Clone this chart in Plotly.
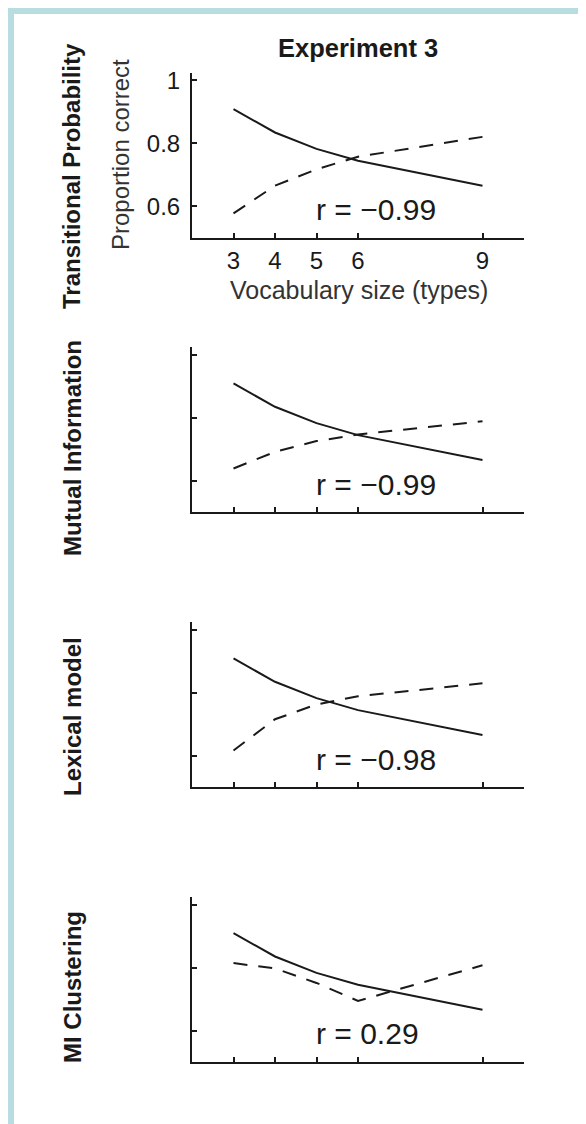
import plotly.graph_objects as go

W, H = 586, 1124

# ---- data ----
vocab_sizes = [3, 4, 5, 6, 9]
human_correct = [0.909, 0.835, 0.783, 0.745, 0.666]          # solid line
tp_model = [0.578, 0.666, 0.718, 0.758, 0.821]               # dashed, Transitional Probability
mi_model = [0.639, 0.692, 0.726, 0.747, 0.789]               # dashed, Mutual Information
lex_model = [0.617, 0.716, 0.763, 0.789, 0.830]              # dashed, Lexical model
mic_model = [0.814, 0.797, 0.751, 0.694, 0.807]              # dashed, MI Clustering
row_labels = ["Transitional Probability", "Mutual Information", "Lexical model", "MI Clustering"]
r_values = ["r = \u22120.99", "r = \u22120.99", "r = \u22120.98", "r = 0.29"]
model_series = [tp_model, mi_model, lex_model, mic_model]
y_ticks = [0.6, 0.8, 1.0]
y_ticklabels = ["0.6", "0.8", "1"]
x_ticks = [3, 4, 5, 6, 9]

FONT = "Liberation Sans, Arial, Helvetica, sans-serif"
INK = "#1a1a1a"

# layout geometry (pixels)
x_left, x_right = 184, 516
bottoms = [230, 504.3, 779.3, 1054]
y_lo, y_hi = 0.5, 1.025
px_per_unit = 315
panel_h = (y_hi - y_lo) * px_per_unit
label_centers = [168, 440, 709, 979]

def px_x(p):
    return p / W

def px_y(p):
    return 1 - p / H

fig = go.Figure()

annotations = []
for i in range(4):
    xa = "x" if i == 0 else f"x{i+1}"
    ya = "y" if i == 0 else f"y{i+1}"
    fig.add_trace(go.Scatter(x=vocab_sizes, y=human_correct, mode="lines",
                             line=dict(color=INK, width=2), xaxis=xa, yaxis=ya,
                             showlegend=False))
    fig.add_trace(go.Scatter(x=vocab_sizes, y=model_series[i], mode="lines",
                             line=dict(color=INK, width=2, dash="14px,11px"),
                             xaxis=xa, yaxis=ya, showlegend=False))
    first = (i == 0)
    xkey = "xaxis" if i == 0 else f"xaxis{i+1}"
    ykey = "yaxis" if i == 0 else f"yaxis{i+1}"
    bottom = bottoms[i]
    top = bottom - panel_h
    fig.update_layout(**{
        xkey: dict(domain=[px_x(x_left), px_x(x_right)], range=[2, 10],
                   anchor=ya, showline=True, linecolor=INK, linewidth=2,
                   ticks="inside", ticklen=5, tickwidth=1.5, tickcolor=INK,
                   tickvals=x_ticks, showticklabels=first,
                   ticklabelstandoff=0,
                   tickfont=dict(family=FONT, size=24, color=INK),
                   showgrid=False, zeroline=False, fixedrange=True),
        ykey: dict(domain=[px_y(bottom), px_y(top)], range=[y_lo, y_hi],
                   anchor=xa, showline=True, linecolor=INK, linewidth=2,
                   ticks="inside", ticklen=5, tickwidth=1.5, tickcolor=INK,
                   tickvals=y_ticks, ticktext=y_ticklabels, showticklabels=first,
                   ticklabelstandoff=5,
                   tickfont=dict(family=FONT, size=24, color=INK),
                   showgrid=False, zeroline=False, fixedrange=True),
    })
    # correlation text
    annotations.append(dict(x=4.93, y=0.589, xref=xa, yref=ya, text=r_values[i],
                            showarrow=False, xanchor="left", yanchor="middle",
                            font=dict(family=FONT, size=30, color=INK)))
    # row label
    annotations.append(dict(x=px_x(64), y=px_y(label_centers[i]), xref="paper", yref="paper",
                            text="<b>" + row_labels[i] + "</b>", textangle=-90,
                            showarrow=False, xanchor="center", yanchor="middle",
                            font=dict(family=FONT, size=24, color=INK)))

# title and axis titles
annotations.append(dict(x=px_x(350), y=px_y(39.5), xref="paper", yref="paper",
                        text="<b>Experiment 3</b>", showarrow=False,
                        xanchor="center", yanchor="middle",
                        font=dict(family=FONT, size=25.5, color=INK)))
annotations.append(dict(x=px_x(112), y=px_y(147), xref="paper", yref="paper",
                        text="Proportion correct", textangle=-90, showarrow=False,
                        xanchor="center", yanchor="middle",
                        font=dict(family=FONT, size=24, color="#333333")))
annotations.append(dict(x=px_x(351), y=px_y(282), xref="paper", yref="paper",
                        text="Vocabulary size (types)", showarrow=False,
                        xanchor="center", yanchor="middle", borderpad=0,
                        font=dict(family=FONT, size=25, color="#333333")))

BORDER = "#b8dde1"
shapes = [
    dict(type="rect", xref="paper", yref="paper", x0=0, x1=px_x(6), y0=0, y1=1,
         fillcolor=BORDER, line=dict(width=0), layer="above"),
    dict(type="rect", xref="paper", yref="paper", x0=0, x1=1, y0=px_y(6), y1=1,
         fillcolor=BORDER, line=dict(width=0), layer="above"),
]

fig.update_layout(width=W, height=H, margin=dict(l=0, r=0, t=0, b=0, autoexpand=False),
                  paper_bgcolor="white", plot_bgcolor="white",
                  annotations=annotations, shapes=shapes, showlegend=False,
                  font=dict(family=FONT, color=INK))

fig.write_html("out.html", config={"displayModeBar": False})
